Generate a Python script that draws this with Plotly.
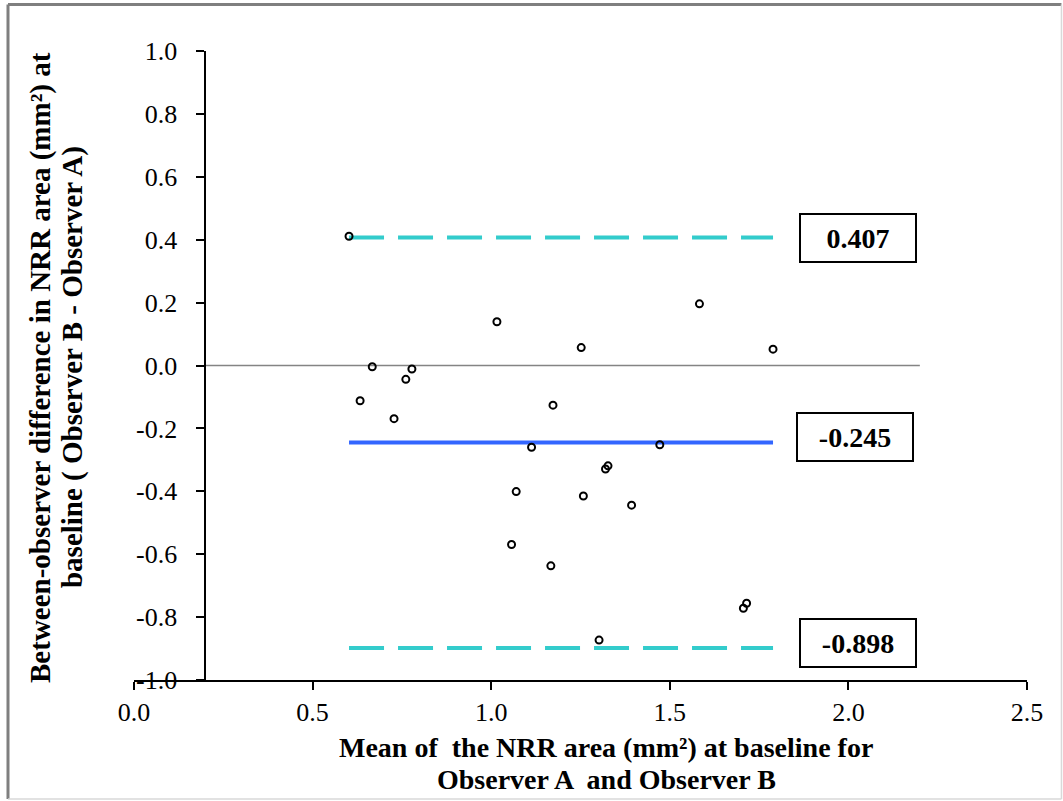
import plotly.graph_objects as go

# ---- data ----
mean_nrr = [0.602, 0.667, 0.633, 0.728, 0.761, 0.778, 1.016, 1.252, 1.173, 1.113,
            1.583, 1.789, 1.472, 1.320, 1.327, 1.070, 1.258, 1.393, 1.057, 1.167,
            1.302, 1.706, 1.715]
diff_nrr = [0.411, -0.004, -0.112, -0.169, -0.044, -0.011, 0.139, 0.057, -0.126, -0.260,
            0.196, 0.052, -0.252, -0.329, -0.319, -0.401, -0.415, -0.444, -0.569, -0.637,
            -0.873, -0.772, -0.756]
upper_loa = 0.407
mean_diff = -0.245
lower_loa = -0.898
loa_labels = ["0.407", "-0.245", "-0.898"]
zero_line_x = [0.2, 2.2]
zero_line_y = [0.0, 0.0]
x_ticks = [0.0, 0.5, 1.0, 1.5, 2.0, 2.5]
x_tick_text = ["0.0", "0.5", "1.0", "1.5", "2.0", "2.5"]
y_ticks = [-1.0, -0.8, -0.6, -0.4, -0.2, 0.0, 0.2, 0.4, 0.6, 0.8, 1.0]
y_tick_text = ["-1.0", "-0.8", "-0.6", "-0.4", "-0.2", "0.0", "0.2", "0.4", "0.6", "0.8", "1.0"]
x_title = ["Mean of  the NRR area (mm²) at baseline for", "Observer A  and Observer B"]
y_title = ["Between-observer difference in NRR area (mm²) at", "baseline ( Observer B - Observer A)"]

FONT = "Liberation Serif"
line_x = [min(mean_nrr), max(mean_nrr)]

fig = go.Figure()

# zero reference line
fig.add_trace(go.Scatter(x=zero_line_x, y=zero_line_y, mode="lines",
                         line=dict(color="#848484", width=1.5), hoverinfo="skip"))
# limits of agreement
fig.add_trace(go.Scatter(x=line_x, y=[upper_loa, upper_loa], mode="lines",
                         line=dict(color="#33CCCC", width=4, dash="35px,14px")))
fig.add_trace(go.Scatter(x=line_x, y=[lower_loa, lower_loa], mode="lines",
                         line=dict(color="#33CCCC", width=4, dash="35px,14px")))
# mean difference
fig.add_trace(go.Scatter(x=line_x, y=[mean_diff, mean_diff], mode="lines",
                         line=dict(color="#3366FF", width=4)))
# points
fig.add_trace(go.Scatter(x=mean_nrr, y=diff_nrr, mode="markers",
                         marker=dict(symbol="circle-open", size=7, color="black",
                                     line=dict(width=2, color="black"))))

# value boxes
box_y = [upper_loa, mean_diff, lower_loa]
box_shift = [(0, 0), (-3, 6), (0, 5)]
for lab, yv, (xs, ys) in zip(loa_labels, box_y, box_shift):
    fig.add_annotation(x=2.027, y=yv, xref="x", yref="y", text="<b>%s</b>" % lab,
                       showarrow=False, xshift=xs, yshift=ys,
                       width=112, height=44, borderwidth=2, borderpad=1,
                       bordercolor="black", bgcolor="white",
                       font=dict(family=FONT, size=28, color="black"))

# axis titles
fig.add_annotation(x=0.5286, y=-0.1081, xref="paper", yref="paper", text="<b>%s</b>" % x_title[0],
                   showarrow=False, xanchor="center", yanchor="middle",
                   font=dict(family=FONT, size=28, color="black"))
fig.add_annotation(x=0.5286, y=-0.1574, xref="paper", yref="paper", text="<b>%s</b>" % x_title[1],
                   showarrow=False, xanchor="center", yanchor="middle",
                   font=dict(family=FONT, size=28, color="black"))
fig.add_annotation(x=-0.1053, y=0.4976, xref="paper", yref="paper", text="<b>%s</b>" % y_title[0],
                   showarrow=False, xanchor="center", yanchor="middle", textangle=-90,
                   font=dict(family=FONT, size=29, color="black"))
fig.add_annotation(x=-0.0694, y=0.4976, xref="paper", yref="paper", text="<b>%s</b>" % y_title[1],
                   showarrow=False, xanchor="center", yanchor="middle", textangle=-90,
                   font=dict(family=FONT, size=29, color="black"))

# outer frame
fig.add_shape(type="line", xref="paper", yref="paper", x0=-0.1411, x1=-0.1411, y0=-0.1892, y1=1.0739,
              line=dict(color="#7f7f7f", width=3))
fig.add_shape(type="line", xref="paper", yref="paper", x0=-0.1411, x1=1.0386, y0=1.0739, y1=1.0739,
              line=dict(color="#7f7f7f", width=3))
fig.add_shape(type="line", xref="paper", yref="paper", x0=1.0386, x1=1.0386, y0=-0.1892, y1=1.0739,
              line=dict(color="#d9d9d9", width=1.5))
fig.add_shape(type="line", xref="paper", yref="paper", x0=-0.1411, x1=1.0386, y0=-0.1892, y1=-0.1892,
              line=dict(color="#d9d9d9", width=1.5))

fig.update_layout(
    width=1063, height=801,
    margin=dict(l=134, r=36, t=51, b=121),
    paper_bgcolor="white", plot_bgcolor="white",
    showlegend=False,
    font=dict(family=FONT, size=26, color="black"),
    xaxis=dict(range=[0, 2.5], tickvals=x_ticks, ticktext=x_tick_text,
               showgrid=False, zeroline=False, showline=True, linecolor="black", linewidth=2,
               ticks="outside", ticklen=8, tickwidth=2, tickcolor="black",
               tickfont=dict(family=FONT, size=26, color="black")),
    yaxis=dict(range=[-1, 1], tickvals=y_ticks, ticktext=y_tick_text,
               anchor="free", position=0.08,
               showgrid=False, zeroline=False, showline=True, linecolor="black", linewidth=2,
               ticks="outside", ticklen=8, tickwidth=2, tickcolor="black",
               ticklabelstandoff=14,
               tickfont=dict(family=FONT, size=26, color="black")),
)

fig.write_html("out.html")
